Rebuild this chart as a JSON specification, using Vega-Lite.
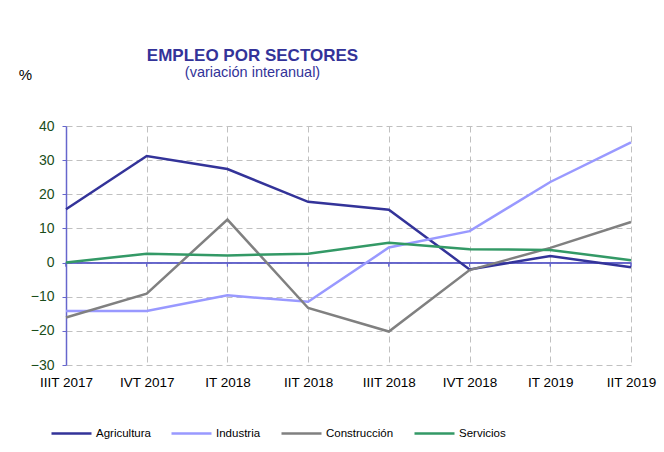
{
  "$schema": "https://vega.github.io/schema/vega-lite/v6.json",
  "width": 565,
  "height": 239,
  "autosize": {"type": "none"},
  "padding": {"left": 66, "top": 126, "right": 33, "bottom": 87},
  "background": "white",
  "title": {
    "text": "EMPLEO POR SECTORES",
    "subtitle": "(variación interanual)",
    "anchor": "middle",
    "frame": "group",
    "dx": -96,
    "offset": -13,
    "font": "Liberation Sans",
    "fontSize": 17,
    "fontWeight": "bold",
    "color": "#333399",
    "subtitleFont": "Liberation Sans",
    "subtitleFontSize": 14.5,
    "subtitleColor": "#333399",
    "subtitlePadding": 1
  },
  "config": {
    "font": "Liberation Sans",
    "view": {"stroke": null}
  },
  "data": {
    "values": [
      {"periodo": "IIIT 2017", "sector": "Agricultura", "valor": 15.6},
      {"periodo": "IVT 2017", "sector": "Agricultura", "valor": 31.2},
      {"periodo": "IT 2018", "sector": "Agricultura", "valor": 27.4},
      {"periodo": "IIT 2018", "sector": "Agricultura", "valor": 17.8},
      {"periodo": "IIIT 2018", "sector": "Agricultura", "valor": 15.5},
      {"periodo": "IVT 2018", "sector": "Agricultura", "valor": -2.0},
      {"periodo": "IT 2019", "sector": "Agricultura", "valor": 1.9},
      {"periodo": "IIT 2019", "sector": "Agricultura", "valor": -1.4},
      {"periodo": "IIIT 2017", "sector": "Industria", "valor": -14.2},
      {"periodo": "IVT 2017", "sector": "Industria", "valor": -14.2},
      {"periodo": "IT 2018", "sector": "Industria", "valor": -9.6},
      {"periodo": "IIT 2018", "sector": "Industria", "valor": -11.5},
      {"periodo": "IIIT 2018", "sector": "Industria", "valor": 4.4},
      {"periodo": "IVT 2018", "sector": "Industria", "valor": 9.2},
      {"periodo": "IT 2019", "sector": "Industria", "valor": 23.6},
      {"periodo": "IIT 2019", "sector": "Industria", "valor": 35.2},
      {"periodo": "IIIT 2017", "sector": "Construcción", "valor": -16.1},
      {"periodo": "IVT 2017", "sector": "Construcción", "valor": -9.1},
      {"periodo": "IT 2018", "sector": "Construcción", "valor": 12.6},
      {"periodo": "IIT 2018", "sector": "Construcción", "valor": -13.3},
      {"periodo": "IIIT 2018", "sector": "Construcción", "valor": -20.2},
      {"periodo": "IVT 2018", "sector": "Construcción", "valor": -2.2},
      {"periodo": "IT 2019", "sector": "Construcción", "valor": 4.3},
      {"periodo": "IIT 2019", "sector": "Construcción", "valor": 11.9},
      {"periodo": "IIIT 2017", "sector": "Servicios", "valor": 0.0},
      {"periodo": "IVT 2017", "sector": "Servicios", "valor": 2.6},
      {"periodo": "IT 2018", "sector": "Servicios", "valor": 2.1},
      {"periodo": "IIT 2018", "sector": "Servicios", "valor": 2.6},
      {"periodo": "IIIT 2018", "sector": "Servicios", "valor": 5.8},
      {"periodo": "IVT 2018", "sector": "Servicios", "valor": 3.9},
      {"periodo": "IT 2019", "sector": "Servicios", "valor": 3.7},
      {"periodo": "IIT 2019", "sector": "Servicios", "valor": 0.7}
    ]
  },
  "resolve": {"axis": {"y": "independent", "x": "independent"}},
  "layer": [
    {
      "mark": {"type": "rule", "color": "#6666cc", "strokeWidth": 1},
      "encoding": {"y": {"datum": 0, "type": "quantitative", "axis": null, "scale": {"domain": [-30, 40], "nice": false}}}
    },
    {
      "mark": {"type": "tick", "orient": "vertical", "size": 4, "thickness": 1, "color": "#6666cc", "yOffset": 2},
      "encoding": {
        "x": {"field": "periodo", "type": "ordinal", "sort": null, "scale": {"type": "point", "padding": 0}, "axis": null},
        "y": {"datum": 0, "type": "quantitative", "axis": null}
      }
    },
    {
      "mark": {"type": "line", "strokeWidth": 2.5},
      "encoding": {
        "x": {
          "field": "periodo",
          "type": "ordinal",
          "sort": null,
          "scale": {"type": "point", "padding": 0},
          "axis": {
            "title": null,
            "labelAngle": 0,
            "labelFontSize": 13.5,
            "labelColor": "#000000",
            "labelPadding": 10,
            "labelOverlap": false,
            "domain": false,
            "ticks": false,
            "grid": true,
            "gridColor": "#c0c0c0",
            "gridDash": [6, 4],
            "gridWidth": 1
          }
        },
        "y": {
          "field": "valor",
          "type": "quantitative",
          "scale": {"domain": [-30, 40], "nice": false},
          "axis": {
            "title": "%",
            "titleAngle": 0,
            "titleX": -41,
            "titleY": -52,
            "titleAlign": "center",
            "titleBaseline": "middle",
            "titleFontSize": 15,
            "titleFontWeight": "normal",
            "titleColor": "#000000",
            "values": [-30, -20, -10, 0, 10, 20, 30, 40],
            "labelOverlap": false,
            "labelFontSize": 14,
            "labelColor": "#1a4d1a",
            "labelPadding": 8,
            "domainColor": "#6666cc",
            "domainWidth": 1.5,
            "tickColor": "#6666cc",
            "tickSize": 4,
            "grid": true,
            "gridColor": "#c0c0c0",
            "gridDash": [6, 4],
            "gridWidth": 1
          }
        },
        "color": {
          "field": "sector",
          "type": "nominal",
          "sort": ["Agricultura", "Industria", "Construcción", "Servicios"],
          "scale": {
            "domain": ["Agricultura", "Industria", "Construcción", "Servicios"],
            "range": ["#333399", "#9999ff", "#808080", "#339966"]
          },
          "legend": {
            "title": null,
            "orient": "none",
            "legendX": -16,
            "legendY": 286,
            "direction": "horizontal",
            "columns": 4,
            "columnPadding": 15,
            "symbolType": "stroke",
            "symbolSize": 1600,
            "symbolStrokeWidth": 2.5,
            "labelFontSize": 11.5,
            "labelColor": "#000000",
            "labelOffset": 3
          }
        }
      }
    }
  ]
}
